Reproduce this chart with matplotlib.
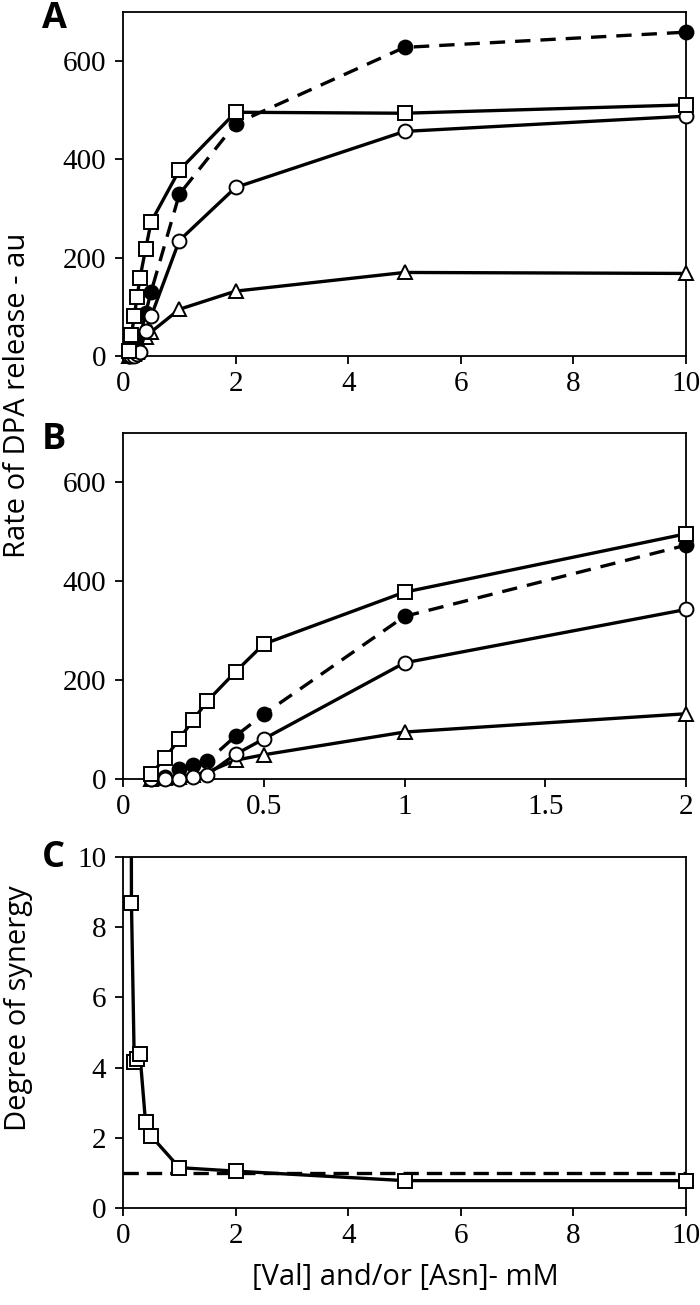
"""
Rate of DPA release vs. [Val] and/or [Asn] (panels A, B) and degree of synergy (panel C).
"""

import matplotlib
matplotlib.use("Agg")
import matplotlib.pyplot as plt
import numpy as np

# ---- Data ----
conc = [0.1, 0.15, 0.2, 0.25, 0.3, 0.4, 0.5, 1, 2, 5, 10]          # mM
rate_squares = [10, 43, 81, 120, 158, 217, 273, 378, 496, 494, 511]   # open squares
rate_filled = [0, 4, 21, 28, 36, 87, 131, 329, 473, 628, 659]         # filled circles, dashed
rate_open = [0, 0, 1, 5, 9, 50, 81, 235, 343, 457, 488]              # open circles
rate_triangles = [0, 2, 5, 9, 14, 38, 49, 95, 132, 170, 168]          # open triangles
synergy = [60, 8.7, 4.15, 4.25, 4.4, 2.45, 2.05, 1.15, 1.05, 0.78, 0.78]

xticks_a = [0, 2, 4, 6, 8, 10]
xticks_b = [0, 0.5, 1, 1.5, 2]
xticklabels_b = ["0", "0.5", "1", "1.5", "2"]
yticks_rate = [0, 200, 400, 600]
yticks_syn = [0, 2, 4, 6, 8, 10]

W, H = 700, 1305
SERIF = "Liberation Serif"
SANS = "Open Sans"
LW = 2.4
MS = 10
DASH = (4.6, 3.0)

plt.rcParams["font.family"] = SERIF


def px_box(left, top, right, bottom):
    """Axes rect in figure fraction from pixel edges."""
    return [left / W, 1 - bottom / H, (right - left) / W, (bottom - top) / H]


def style_axes(ax):
    for sp in ax.spines.values():
        sp.set_linewidth(1.3)
        sp.set_color("black")
    ax.tick_params(axis="both", direction="out", length=6, width=1.3,
                   labelsize=21, top=False, right=False)
    ax.tick_params(axis="y", pad=6)
    ax.tick_params(axis="x", pad=5)


def plot_rates(ax, mask):
    x = np.array(conc)[mask]
    common = dict(color="black", lw=LW, ms=MS, mew=1.4, clip_on=False)
    ax.plot(x, np.array(rate_filled)[mask], marker="o", mfc="black",
            ls="--", dashes=DASH, zorder=3, **common)
    ax.plot(x, np.array(rate_triangles)[mask], marker="^", mfc="white",
            zorder=4, **{**common, "ms": MS + 0.5})
    ax.plot(x, np.array(rate_open)[mask], marker="o", mfc="white",
            zorder=5, **common)
    ax.plot(x, np.array(rate_squares)[mask], marker="s", mfc="white",
            zorder=6, **common)


def main():
    fig = plt.figure(figsize=(W / 100, H / 100), dpi=100)

    # Panel A: full range
    ax_a = fig.add_axes(px_box(123, 12, 686, 356))
    plot_rates(ax_a, np.ones(len(conc), dtype=bool))
    ax_a.set_xlim(0, 10)
    ax_a.set_ylim(0, 700)
    ax_a.set_xticks(xticks_a)
    ax_a.set_yticks(yticks_rate)
    style_axes(ax_a)

    # Panel B: zoom 0-2 mM
    ax_b = fig.add_axes(px_box(123, 433, 686, 779))
    plot_rates(ax_b, np.array(conc) <= 2)
    ax_b.set_xlim(0, 2)
    ax_b.set_ylim(0, 700)
    ax_b.set_xticks(xticks_b)
    ax_b.set_xticklabels(xticklabels_b)
    ax_b.set_yticks(yticks_rate)
    style_axes(ax_b)

    # Panel C: synergy
    ax_c = fig.add_axes(px_box(123, 857, 686, 1208))
    ax_c.plot([0, 10], [1, 1], color="black", lw=LW, ls="--", dashes=(4.6, 2.4), zorder=2)
    ax_c.plot(conc, synergy, color="black", lw=LW, zorder=3)  # clipped at the top
    syn = np.array(synergy, dtype=float)
    syn_vis = np.where(syn <= 10, syn, np.nan)
    ax_c.plot(conc, syn_vis, ls="none", marker="s", mfc="white", mec="black",
              ms=MS, mew=1.4, clip_on=False, zorder=4)
    ax_c.set_xlim(0, 10)
    ax_c.set_ylim(0, 10)
    ax_c.set_xticks(xticks_a)
    ax_c.set_yticks(yticks_syn)
    style_axes(ax_c)

    # Panel letters
    for letter, ypx in (("A", 19), ("B", 440), ("C", 858)):
        fig.text(42 / W, 1 - ypx / H, letter, fontsize=26, fontweight="bold",
                 family=SANS, ha="left", va="center")

    # Axis labels
    fig.text(18 / W, 1 - 395 / H, "Rate of DPA release - au", rotation=90,
             fontsize=21, family=SANS, ha="center", va="center")
    fig.text(19 / W, 1 - 1008 / H, "Degree of synergy", rotation=90,
             fontsize=21, family=SANS, ha="center", va="center")
    fig.text(405 / W, 1 - 1278 / H, "[Val] and/or [Asn]- mM",
             fontsize=21, family=SANS, ha="center", va="center")

    fig.savefig("out.png", dpi=100)
    plt.close(fig)


if __name__ == "__main__":
    main()
